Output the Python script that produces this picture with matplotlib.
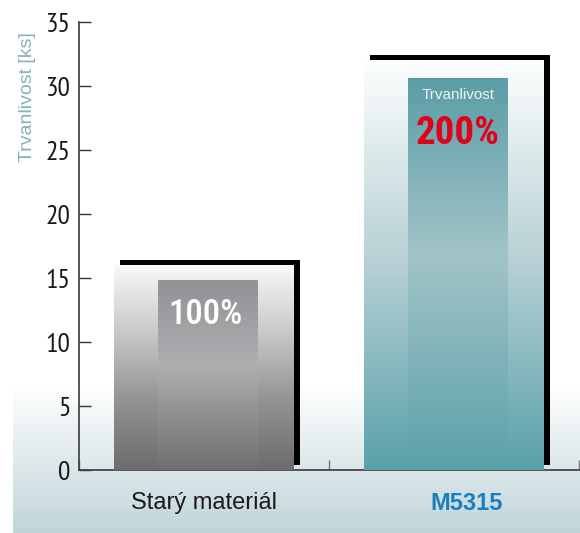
import numpy as np
import matplotlib.pyplot as plt
import matplotlib.transforms as mtransforms
from matplotlib.colors import LinearSegmentedColormap

categories = ['Starý materiál', 'M5315']
block_values = [16.0, 32.0]     # background blocks (100 % / 200 %)
bar_values = [14.8, 30.6]       # inner bars
percent_labels = ['100%', '200%']
yticks = [0, 5, 10, 15, 20, 25, 30, 35]

x = np.arange(len(categories))
tick_font = 'PT Sans Narrow'
pct_font = 'Roboto Condensed'


def cmap(name, colors):
    return LinearSegmentedColormap.from_list(name, colors)


grad = np.linspace(0, 1, 256).reshape(-1, 1)


def fill_gradient(ax, bars, cm, z):
    for b in bars:
        x0, y0 = b.get_x(), b.get_y()
        ax.imshow(grad, cmap=cm, aspect='auto', origin='upper', zorder=z,
                  extent=[x0, x0 + b.get_width(), y0, y0 + b.get_height()])


fig = plt.figure(figsize=(5.8, 5.33), dpi=100)

# pale band at the bottom of the picture
bg = fig.add_axes([13 / 580, 0, 567 / 580, 150 / 533], zorder=0)
bg.imshow(grad, cmap=cmap('bg', ['#ffffff', '#c1d5d9']), aspect='auto',
          origin='upper', extent=[0, 1, 0, 1])
bg.axis('off')

ax = fig.add_axes([79 / 580, 63 / 533, 500 / 580, 448 / 533], zorder=1)
ax.set_facecolor('none')

# black shadow behind the blocks
ax.bar(x + 0.024, block_values, 0.72, bottom=0.39, color='black', zorder=2)

outer = ax.bar(x, block_values, 0.72, color='none', zorder=3)
fill_gradient(ax, [outer[0]], cmap('go', ['#f8f8f8', '#c8c8ca', '#929294', '#6c6c6e']), 3)
fill_gradient(ax, [outer[1]], cmap('to', ['#fdfefe', '#b5d0d4', '#5aa1a9']), 3)

inner = ax.bar(x + 0.015, bar_values, 0.4, color='none', zorder=4)
fill_gradient(ax, [inner[0]], cmap('gi', [(0, '#929296'), (0.45, '#afafb2'), (1, '#6e6e70')]), 4)
fill_gradient(ax, [inner[1]], cmap('ti', [(0, '#5b9da6'), (0.45, '#a2c4c8'), (1, '#5ba1a9')]), 4)

# labels inside the bars
ax.text(x[0] + 0.005, bar_values[0] - 2.65, percent_labels[0], ha='center', va='center',
        color='white', fontsize=25, fontweight='medium', family=pct_font, zorder=5)
ax.text(x[1] + 0.015, bar_values[1] - 1.3, 'Trvanlivost', ha='center', va='center',
        color='#eef4f4', fontsize=11, family='Liberation Sans', zorder=5)
ax.text(x[1] + 0.015, bar_values[1] - 4.3, percent_labels[1], ha='center', va='center',
        color='#e2001a', fontsize=28, fontweight='bold', family=pct_font, zorder=5)

ax.set_xlim(-0.5, 1.5)
ax.set_ylim(0, 35)
for s in ['top', 'right']:
    ax.spines[s].set_visible(False)
for s in ['left', 'bottom']:
    ax.spines[s].set_color('#3a3a3a')
    ax.spines[s].set_linewidth(1.2)

ax.set_yticks(yticks)
ax.set_yticklabels([str(v) for v in yticks], family=tick_font, fontsize=20, color='#1a1a1a')
ax.tick_params(axis='y', direction='in', length=8.5, width=1, color='#333333', pad=6)

ax.set_xticks([-0.5, 0.5, 1.5], minor=True)
ax.tick_params(axis='x', which='minor', direction='in', length=7, width=1, color='#777777')
ax.set_xticks(x)
ax.set_xticklabels(categories, family='Liberation Sans', fontsize=17, color='#1a1a1a')
ax.tick_params(axis='x', which='major', length=0, pad=16)
lab = ax.get_xticklabels()[1]
lab.set_color('#1a7fc1')
lab.set_fontweight('bold')
lab.set_transform(lab.get_transform() + mtransforms.ScaledTranslation(0.13, 0, fig.dpi_scale_trans))

fig.text(27 / 580, 1 - 97 / 533, 'Trvanlivost [ks]', rotation=90, ha='center', va='center',
         color='#85b3b8', fontsize=14, family='Liberation Sans')

fig.savefig('out.png', dpi=100)
